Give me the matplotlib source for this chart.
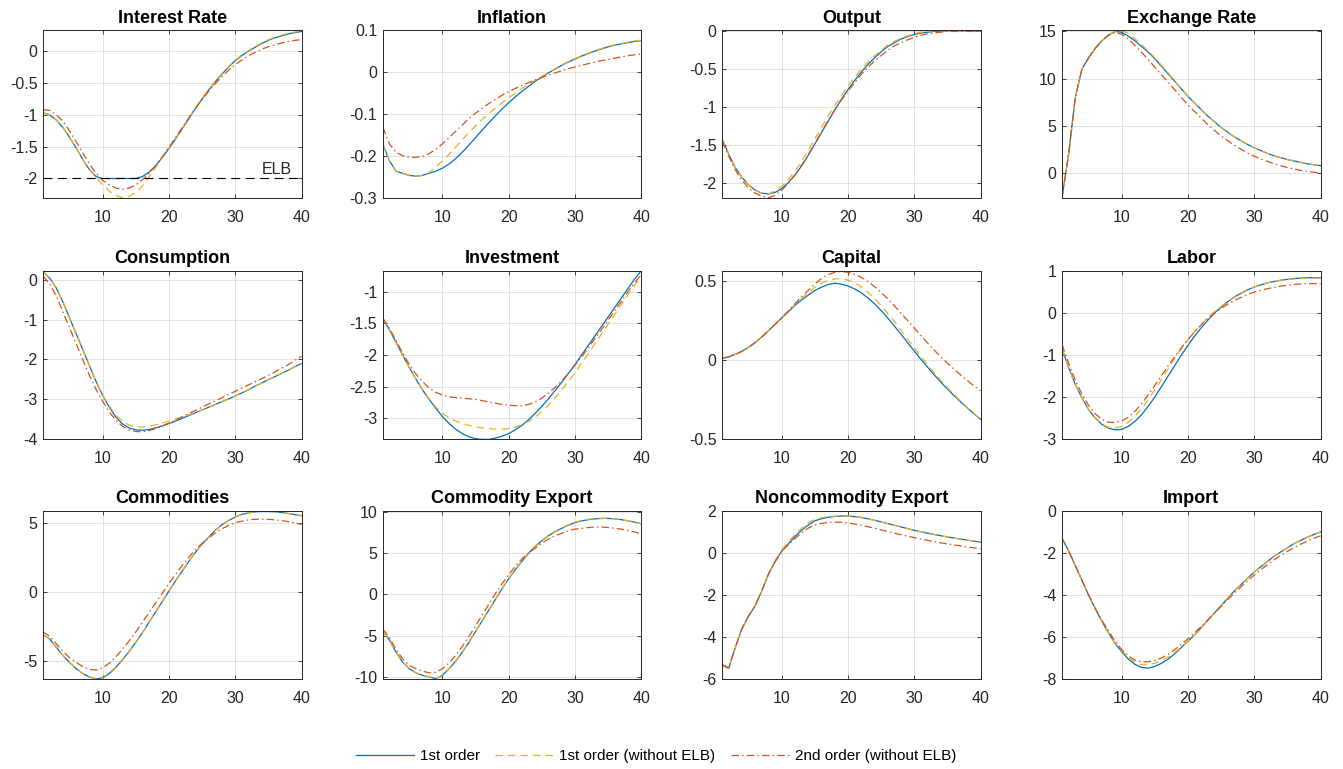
import numpy as np
import matplotlib
matplotlib.use("Agg")
import matplotlib.pyplot as plt

plt.rcParams['font.family'] = ['Liberation Sans', 'DejaVu Sans']
plt.rcParams['axes.unicode_minus'] = False

# Orizzonte temporale
periods = list(range(1, 41))

# ---------------- dati ----------------
rate_1st = [-0.97, -1.0, -1.08, -1.2, -1.35, -1.52, -1.7, -1.86, -1.97, -2.0,
            -2.0, -2.0, -2.0, -2.0, -2.0, -1.97, -1.9, -1.8, -1.67, -1.53,
            -1.38, -1.22, -1.06, -0.9, -0.75, -0.61, -0.48, -0.36, -0.25, -0.15,
            -0.07, 0.0, 0.06, 0.12, 0.17, 0.21, 0.24, 0.27, 0.29, 0.31]
rate_1st_noelb = [-0.97, -1.0, -1.08, -1.2, -1.35, -1.52, -1.7, -1.86, -1.98, -2.1,
                  -2.2, -2.27, -2.3, -2.28, -2.22, -2.12, -1.98, -1.83, -1.67, -1.52,
                  -1.37, -1.21, -1.05, -0.89, -0.74, -0.6, -0.47, -0.35, -0.24, -0.14,
                  -0.06, 0.01, 0.07, 0.13, 0.18, 0.22, 0.25, 0.28, 0.3, 0.32]
rate_2nd_noelb = [-0.92, -0.93, -1.0, -1.1, -1.25, -1.42, -1.6, -1.77, -1.92, -2.03,
                  -2.1, -2.15, -2.17, -2.15, -2.1, -2.02, -1.92, -1.8, -1.66, -1.51,
                  -1.36, -1.2, -1.05, -0.9, -0.76, -0.63, -0.51, -0.4, -0.3, -0.21,
                  -0.14, -0.07, -0.02, 0.03, 0.07, 0.1, 0.13, 0.15, 0.17, 0.18]

infl_1st = [-0.17, -0.21, -0.235, -0.24, -0.245, -0.247, -0.245, -0.24, -0.235, -0.228,
            -0.218, -0.205, -0.19, -0.173, -0.155, -0.137, -0.12, -0.103, -0.087, -0.072,
            -0.058, -0.045, -0.033, -0.021, -0.011, -0.001, 0.008, 0.017, 0.025, 0.032,
            0.039, 0.045, 0.051, 0.056, 0.061, 0.065, 0.068, 0.071, 0.074, 0.076]
infl_1st_noelb = [-0.17, -0.21, -0.235, -0.24, -0.245, -0.247, -0.245, -0.238, -0.225, -0.21,
                  -0.195, -0.178, -0.16, -0.143, -0.127, -0.112, -0.098, -0.085, -0.072, -0.06,
                  -0.049, -0.038, -0.028, -0.018, -0.009, 0.0, 0.009, 0.018, 0.026, 0.033,
                  0.04, 0.046, 0.052, 0.057, 0.062, 0.066, 0.069, 0.072, 0.075, 0.077]
infl_2nd_noelb = [-0.13, -0.17, -0.19, -0.198, -0.202, -0.202, -0.2, -0.193, -0.183, -0.17,
                  -0.155, -0.14, -0.125, -0.11, -0.097, -0.085, -0.074, -0.064, -0.054, -0.046,
                  -0.038, -0.031, -0.024, -0.018, -0.012, -0.006, -0.001, 0.004, 0.009, 0.013,
                  0.017, 0.021, 0.025, 0.028, 0.031, 0.034, 0.037, 0.04, 0.042, 0.044]

out_1st = [-1.42, -1.62, -1.8, -1.93, -2.03, -2.1, -2.14, -2.15, -2.13, -2.08,
           -2.0, -1.9, -1.78, -1.64, -1.49, -1.34, -1.19, -1.04, -0.9, -0.77,
           -0.65, -0.54, -0.44, -0.35, -0.27, -0.2, -0.15, -0.1, -0.07, -0.04,
           -0.02, -0.01, 0.0, 0.005, 0.01, 0.01, 0.01, 0.008, 0.006, 0.005]
out_1st_noelb = [-1.42, -1.62, -1.8, -1.93, -2.03, -2.1, -2.14, -2.15, -2.11, -2.05,
                 -1.96, -1.85, -1.72, -1.57, -1.42, -1.27, -1.12, -0.98, -0.85, -0.72,
                 -0.61, -0.5, -0.41, -0.32, -0.25, -0.18, -0.13, -0.09, -0.06, -0.03,
                 -0.01, 0.0, 0.01, 0.013, 0.013, 0.013, 0.012, 0.01, 0.008, 0.007]
out_2nd_noelb = [-1.45, -1.65, -1.83, -1.97, -2.07, -2.14, -2.18, -2.2, -2.17, -2.1,
                 -2.01, -1.9, -1.77, -1.63, -1.48, -1.33, -1.18, -1.04, -0.91, -0.79,
                 -0.68, -0.57, -0.48, -0.39, -0.32, -0.25, -0.19, -0.15, -0.11, -0.08,
                 -0.05, -0.03, -0.02, -0.01, 0.0, 0.0, 0.0, 0.0, 0.0, 0.0]

fx_1st = [-2.6, 2.0, 8.0, 11.0, 12.2, 13.2, 14.0, 14.6, 15.0, 14.9,
          14.5, 14.0, 13.4, 12.8, 12.1, 11.3, 10.5, 9.7, 8.9, 8.1,
          7.4, 6.7, 6.0, 5.4, 4.8, 4.3, 3.8, 3.4, 3.0, 2.65,
          2.35, 2.05, 1.8, 1.6, 1.4, 1.25, 1.1, 0.95, 0.85, 0.75]
fx_1st_noelb = [-2.6, 2.0, 8.0, 11.0, 12.2, 13.2, 14.0, 14.6, 15.0, 15.1,
                14.8, 14.2, 13.6, 12.9, 12.2, 11.4, 10.6, 9.75, 8.9, 8.1,
                7.4, 6.7, 6.0, 5.4, 4.8, 4.3, 3.8, 3.4, 3.0, 2.65,
                2.35, 2.05, 1.8, 1.6, 1.4, 1.25, 1.1, 0.95, 0.85, 0.75]
fx_2nd_noelb = [-2.6, 2.0, 8.0, 11.0, 12.2, 13.2, 14.0, 14.6, 14.9, 14.7,
                14.2, 13.5, 12.8, 12.0, 11.2, 10.4, 9.6, 8.8, 8.0, 7.2,
                6.5, 5.8, 5.1, 4.5, 3.9, 3.4, 2.9, 2.5, 2.1, 1.75,
                1.45, 1.2, 0.95, 0.75, 0.55, 0.4, 0.25, 0.15, 0.05, 0.0]

cons_1st = [0.2, 0.05, -0.2, -0.55, -0.95, -1.35, -1.75, -2.15, -2.55, -2.9,
            -3.2, -3.45, -3.62, -3.72, -3.77, -3.78, -3.76, -3.72, -3.67, -3.61,
            -3.55, -3.48, -3.41, -3.34, -3.27, -3.2, -3.13, -3.06, -2.99, -2.92,
            -2.84, -2.76, -2.67, -2.59, -2.51, -2.43, -2.35, -2.27, -2.18, -2.1]
cons_1st_noelb = [0.2, 0.05, -0.2, -0.55, -0.95, -1.35, -1.75, -2.15, -2.55, -2.9,
                  -3.17, -3.4, -3.55, -3.65, -3.69, -3.7, -3.68, -3.64, -3.6, -3.55,
                  -3.5, -3.45, -3.39, -3.33, -3.27, -3.2, -3.13, -3.06, -2.99, -2.92,
                  -2.84, -2.76, -2.67, -2.59, -2.51, -2.43, -2.35, -2.27, -2.18, -2.1]
cons_2nd_noelb = [0.1, -0.1, -0.4, -0.8, -1.2, -1.6, -2.0, -2.4, -2.75, -3.05,
                  -3.32, -3.53, -3.68, -3.77, -3.81, -3.82, -3.79, -3.74, -3.67, -3.6,
                  -3.52, -3.44, -3.36, -3.28, -3.2, -3.12, -3.04, -2.96, -2.88, -2.8,
                  -2.72, -2.64, -2.56, -2.48, -2.4, -2.31, -2.22, -2.13, -2.02, -1.92]

inv_1st = [-1.42, -1.6, -1.8, -2.0, -2.2, -2.38, -2.55, -2.7, -2.84, -2.97,
           -3.08, -3.17, -3.24, -3.29, -3.32, -3.33, -3.33, -3.31, -3.28, -3.24,
           -3.18, -3.11, -3.02, -2.92, -2.81, -2.69, -2.56, -2.43, -2.29, -2.15,
           -2.0, -1.85, -1.7, -1.55, -1.4, -1.25, -1.1, -0.95, -0.8, -0.67]
inv_1st_noelb = [-1.42, -1.6, -1.8, -2.0, -2.2, -2.38, -2.55, -2.69, -2.82, -2.92,
                 -2.99, -3.04, -3.08, -3.11, -3.13, -3.15, -3.16, -3.17, -3.17, -3.16,
                 -3.14, -3.1, -3.05, -2.98, -2.89, -2.79, -2.67, -2.55, -2.42, -2.28,
                 -2.13, -1.98, -1.82, -1.67, -1.51, -1.36, -1.2, -1.05, -0.9, -0.75]
inv_2nd_noelb = [-1.42, -1.58, -1.77, -1.97, -2.15, -2.3, -2.42, -2.52, -2.59, -2.63,
                 -2.66, -2.67, -2.68, -2.69, -2.7, -2.72, -2.74, -2.76, -2.78, -2.79,
                 -2.8, -2.8, -2.78, -2.74, -2.68, -2.6, -2.51, -2.41, -2.29, -2.16,
                 -2.03, -1.89, -1.74, -1.6, -1.45, -1.3, -1.15, -1.0, -0.86, -0.73]

cap_1st = [0.01, 0.02, 0.035, 0.055, 0.08, 0.11, 0.145, 0.185, 0.225, 0.265,
           0.305, 0.345, 0.38, 0.41, 0.44, 0.46, 0.478, 0.485, 0.48, 0.468,
           0.45, 0.425, 0.393, 0.356, 0.313, 0.266, 0.215, 0.163, 0.11, 0.057,
           0.005, -0.045, -0.093, -0.14, -0.183, -0.225, -0.265, -0.303, -0.34, -0.375]
cap_1st_noelb = [0.01, 0.02, 0.035, 0.055, 0.08, 0.11, 0.145, 0.185, 0.225, 0.265,
                 0.307, 0.35, 0.39, 0.425, 0.46, 0.485, 0.503, 0.513, 0.513, 0.505,
                 0.488, 0.463, 0.43, 0.39, 0.345, 0.295, 0.243, 0.188, 0.133, 0.077,
                 0.023, -0.03, -0.08, -0.128, -0.175, -0.218, -0.26, -0.3, -0.338, -0.375]
cap_2nd_noelb = [0.01, 0.02, 0.035, 0.055, 0.08, 0.11, 0.145, 0.185, 0.225, 0.267,
                 0.31, 0.355, 0.4, 0.44, 0.48, 0.515, 0.54, 0.555, 0.56, 0.555,
                 0.543, 0.523, 0.497, 0.465, 0.428, 0.387, 0.343, 0.297, 0.25, 0.203,
                 0.155, 0.108, 0.063, 0.02, -0.02, -0.058, -0.095, -0.13, -0.163, -0.195]

lab_1st = [-0.85, -1.3, -1.7, -2.02, -2.3, -2.5, -2.65, -2.74, -2.78, -2.77,
           -2.7, -2.58, -2.42, -2.22, -2.0, -1.75, -1.5, -1.25, -1.0, -0.77,
           -0.55, -0.35, -0.17, 0.0, 0.14, 0.27, 0.38, 0.47, 0.55, 0.62,
           0.67, 0.72, 0.75, 0.78, 0.8, 0.82, 0.83, 0.84, 0.84, 0.84]
lab_1st_noelb = [-0.85, -1.3, -1.7, -2.02, -2.3, -2.5, -2.64, -2.72, -2.74, -2.7,
                 -2.6, -2.46, -2.28, -2.06, -1.83, -1.58, -1.33, -1.08, -0.85, -0.63,
                 -0.44, -0.27, -0.11, 0.03, 0.16, 0.28, 0.39, 0.48, 0.56, 0.62,
                 0.68, 0.72, 0.75, 0.78, 0.8, 0.81, 0.82, 0.83, 0.83, 0.83]
lab_2nd_noelb = [-0.75, -1.2, -1.6, -1.93, -2.2, -2.4, -2.53, -2.6, -2.61, -2.57,
                 -2.48, -2.34, -2.16, -1.95, -1.72, -1.49, -1.26, -1.04, -0.83, -0.63,
                 -0.45, -0.28, -0.13, 0.0, 0.11, 0.21, 0.3, 0.37, 0.44, 0.5,
                 0.54, 0.58, 0.61, 0.64, 0.66, 0.68, 0.69, 0.7, 0.7, 0.7]

com_1st = [-3.1, -3.4, -4.0, -4.6, -5.1, -5.55, -5.9, -6.15, -6.3, -6.2,
           -5.9, -5.45, -4.9, -4.3, -3.65, -2.95, -2.2, -1.45, -0.7, 0.05,
           0.8, 1.5, 2.2, 2.85, 3.45, 3.95, 4.45, 4.85, 5.15, 5.4,
           5.6, 5.7, 5.78, 5.8, 5.8, 5.78, 5.73, 5.66, 5.58, 5.5]
com_1st_noelb = [-3.1, -3.4, -4.0, -4.6, -5.1, -5.55, -5.9, -6.15, -6.3, -6.25,
                 -5.95, -5.5, -4.95, -4.33, -3.67, -2.96, -2.2, -1.44, -0.68, 0.07,
                 0.82, 1.52, 2.22, 2.87, 3.46, 3.97, 4.46, 4.86, 5.16, 5.41,
                 5.61, 5.71, 5.79, 5.82, 5.82, 5.79, 5.74, 5.67, 5.59, 5.51]
com_2nd_noelb = [-2.9, -3.2, -3.75, -4.3, -4.75, -5.1, -5.4, -5.6, -5.65, -5.5,
                 -5.15, -4.7, -4.15, -3.55, -2.9, -2.2, -1.5, -0.8, -0.1, 0.6,
                 1.25, 1.9, 2.5, 3.05, 3.5, 3.9, 4.25, 4.55, 4.8, 5.0,
                 5.1, 5.2, 5.24, 5.25, 5.24, 5.2, 5.15, 5.07, 4.98, 4.87]

cx_1st = [-4.5, -5.5, -7.0, -8.2, -9.0, -9.5, -9.8, -10.0, -10.2, -9.8,
          -9.0, -8.1, -7.0, -5.8, -4.5, -3.2, -1.9, -0.6, 0.7, 1.9,
          3.0, 4.0, 5.0, 5.8, 6.5, 7.1, 7.6, 8.0, 8.4, 8.7,
          8.9, 9.05, 9.15, 9.2, 9.2, 9.15, 9.05, 8.9, 8.75, 8.55]
cx_1st_noelb = [-4.5, -5.5, -7.0, -8.2, -9.0, -9.5, -9.8, -10.0, -10.2, -9.75,
                -8.95, -8.05, -6.95, -5.75, -4.45, -3.15, -1.85, -0.55, 0.75, 1.95,
                3.05, 4.05, 5.05, 5.85, 6.55, 7.15, 7.65, 8.05, 8.45, 8.75,
                8.95, 9.1, 9.2, 9.22, 9.2, 9.15, 9.05, 8.9, 8.75, 8.55]
cx_2nd_noelb = [-4.2, -5.2, -6.7, -7.8, -8.6, -9.0, -9.3, -9.5, -9.45, -9.0,
                -8.3, -7.4, -6.3, -5.1, -3.8, -2.5, -1.2, 0.1, 1.3, 2.4,
                3.4, 4.3, 5.0, 5.6, 6.2, 6.7, 7.1, 7.4, 7.7, 7.9,
                8.0, 8.1, 8.15, 8.15, 8.1, 8.0, 7.9, 7.75, 7.55, 7.35]

ncx_1st = [-5.35, -5.5, -4.5, -3.6, -3.0, -2.5, -1.8, -1.0, -0.4, 0.1,
           0.45, 0.8, 1.1, 1.35, 1.55, 1.65, 1.72, 1.76, 1.78, 1.78,
           1.75, 1.71, 1.65, 1.58, 1.5, 1.42, 1.34, 1.26, 1.18, 1.1,
           1.03, 0.96, 0.9, 0.84, 0.78, 0.73, 0.68, 0.63, 0.58, 0.53]
ncx_1st_noelb = [-5.35, -5.5, -4.5, -3.6, -3.0, -2.5, -1.8, -1.0, -0.35, 0.15,
                 0.55, 0.9, 1.2, 1.45, 1.62, 1.7, 1.75, 1.77, 1.78, 1.78,
                 1.75, 1.71, 1.65, 1.58, 1.5, 1.42, 1.34, 1.26, 1.18, 1.1,
                 1.03, 0.96, 0.9, 0.84, 0.78, 0.73, 0.68, 0.63, 0.58, 0.53]
ncx_2nd_noelb = [-5.3, -5.45, -4.5, -3.6, -3.0, -2.5, -1.8, -1.0, -0.4, 0.1,
                 0.4, 0.7, 0.98, 1.2, 1.35, 1.43, 1.47, 1.49, 1.48, 1.45,
                 1.4, 1.34, 1.27, 1.2, 1.12, 1.04, 0.96, 0.89, 0.82, 0.75,
                 0.68, 0.62, 0.56, 0.5, 0.45, 0.4, 0.35, 0.3, 0.26, 0.22]

imp_1st = [-1.3, -1.9, -2.6, -3.3, -4.0, -4.65, -5.25, -5.8, -6.3, -6.7,
           -7.05, -7.3, -7.45, -7.48, -7.4, -7.25, -7.05, -6.8, -6.5, -6.2,
           -5.9, -5.55, -5.2, -4.85, -4.5, -4.15, -3.8, -3.5, -3.2, -2.9,
           -2.65, -2.4, -2.15, -1.95, -1.75, -1.55, -1.4, -1.25, -1.12, -1.0]
imp_1st_noelb = [-1.3, -1.9, -2.6, -3.3, -4.0, -4.65, -5.25, -5.8, -6.28, -6.65,
                 -6.95, -7.2, -7.32, -7.32, -7.25, -7.12, -6.95, -6.73, -6.47, -6.2,
                 -5.9, -5.55, -5.2, -4.85, -4.5, -4.15, -3.8, -3.5, -3.2, -2.9,
                 -2.65, -2.4, -2.15, -1.95, -1.75, -1.55, -1.4, -1.25, -1.12, -1.0]
imp_2nd_noelb = [-1.3, -1.9, -2.6, -3.3, -4.0, -4.62, -5.2, -5.7, -6.2, -6.6,
                 -6.9, -7.1, -7.18, -7.18, -7.12, -7.0, -6.83, -6.6, -6.35, -6.08,
                 -5.8, -5.5, -5.18, -4.86, -4.54, -4.22, -3.91, -3.61, -3.32, -3.05,
                 -2.79, -2.55, -2.32, -2.11, -1.92, -1.74, -1.58, -1.43, -1.3, -1.18]

titles = ["Interest Rate", "Inflation", "Output", "Exchange Rate",
          "Consumption", "Investment", "Capital", "Labor",
          "Commodities", "Commodity Export", "Noncommodity Export", "Import"]

series_1st = [rate_1st, infl_1st, out_1st, fx_1st, cons_1st, inv_1st,
              cap_1st, lab_1st, com_1st, cx_1st, ncx_1st, imp_1st]
series_1st_noelb = [rate_1st_noelb, infl_1st_noelb, out_1st_noelb, fx_1st_noelb,
                    cons_1st_noelb, inv_1st_noelb, cap_1st_noelb, lab_1st_noelb,
                    com_1st_noelb, cx_1st_noelb, ncx_1st_noelb, imp_1st_noelb]
series_2nd_noelb = [rate_2nd_noelb, infl_2nd_noelb, out_2nd_noelb, fx_2nd_noelb,
                    cons_2nd_noelb, inv_2nd_noelb, cap_2nd_noelb, lab_2nd_noelb,
                    com_2nd_noelb, cx_2nd_noelb, ncx_2nd_noelb, imp_2nd_noelb]

y_ticks = [[-2, -1.5, -1, -0.5, 0], [-0.3, -0.2, -0.1, 0, 0.1],
           [-2, -1.5, -1, -0.5, 0], [0, 5, 10, 15],
           [-4, -3, -2, -1, 0], [-3, -2.5, -2, -1.5, -1],
           [-0.5, 0, 0.5], [-3, -2, -1, 0, 1],
           [-5, 0, 5], [-10, -5, 0, 5, 10],
           [-6, -4, -2, 0, 2], [-8, -6, -4, -2, 0]]

y_limits = [(-2.314, 0.325), (-0.3, 0.1), (-2.21, 0.013), (-2.73, 15.1),
            (-4, 0.225), (-3.325, -0.675), (-0.5, 0.563), (-3, 1),
            (-6.3, 5.84), (-10.25, 10.1), (-6, 2.02), (-8, 0)]

elb_level = -2
legend_labels = ["1st order", "1st order (without ELB)", "2nd order (without ELB)"]

# ---------------- stile MATLAB ----------------
C_BLUE = '#0072BD'
C_YELLOW = '#EDB120'
C_RED = '#D95319'
C_AX = '#262626'

fig = plt.figure(figsize=(13.43, 7.69), dpi=100)

lefts = [0.0320, 0.2850, 0.5376, 0.7908]
bottoms = [0.7419, 0.4291, 0.1170]
w, h = 0.1925, 0.2185

handles = None
for i, title in enumerate(titles):
    r, c = divmod(i, 4)
    ax = fig.add_axes([lefts[c], bottoms[r], w, h])

    l1, = ax.plot(periods, series_1st[i], color=C_BLUE, lw=0.9, ls='-')
    l2, = ax.plot(periods, series_1st_noelb[i], color=C_YELLOW, lw=0.9,
                  ls=(0, (6, 4)))
    l3, = ax.plot(periods, series_2nd_noelb[i], color=C_RED, lw=0.9,
                  ls=(0, (6, 2.5, 1.2, 2.5)))
    handles = [l1, l2, l3]

    if i == 0:
        ax.plot([1, 40], [elb_level, elb_level], color='black', lw=0.8,
                ls=(0, (8, 5)))
        ax.text(34.0, elb_level + 0.03, 'ELB', fontsize=11.5, color=C_AX,
                ha='left', va='bottom')

    ax.set_xlim(1, 40)
    ax.set_ylim(*y_limits[i])
    ax.set_xticks([10, 20, 30, 40])
    ax.set_yticks(y_ticks[i])
    ax.set_yticklabels([f"{t:g}" for t in y_ticks[i]])
    ax.set_title(title, fontsize=13, fontweight='bold', pad=5.5)

    ax.grid(True, color=C_AX, alpha=0.15, lw=0.6)
    ax.set_axisbelow(True)
    ax.tick_params(direction='in', length=3, width=0.6, colors=C_AX,
                   labelsize=11.5, top=True, right=True)
    ax.tick_params(axis='x', pad=8.5)
    ax.tick_params(axis='y', pad=4)
    for sp in ax.spines.values():
        sp.set_color(C_AX)
        sp.set_linewidth(0.7)

fig.legend(handles, legend_labels, loc='center', ncol=3, frameon=False,
           fontsize=11, handlelength=3.8, handletextpad=0.4, columnspacing=1.0,
           bbox_to_anchor=(656 / 1343, 1 - 756 / 769))

fig.savefig("out.png", dpi=100)
